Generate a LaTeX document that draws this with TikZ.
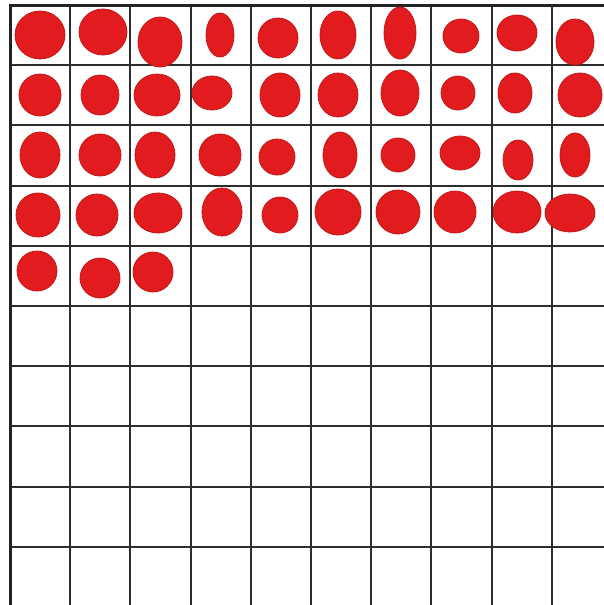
\documentclass[tikz,border=0pt]{standalone}
\usepackage{tikz}
\definecolor{dotred}{RGB}{226,28,30}
\definecolor{gridgray}{RGB}{45,45,45}
\tikzset{
gridline/.style={draw=gridgray,line width=2pt},
gridedge/.style={draw=gridgray!80!black,line width=3pt},
dotblob/.style={fill=dotred,draw=dotred!85!black,line width=0.8pt}
}
\begin{document}
\begin{tikzpicture}[x=1pt,y=-1pt]
\useasboundingbox (0,0) rectangle (604,605);
\fill[white] (0,0) rectangle (604,605);
% grid
\foreach \i in {1,...,9} {
  \draw[gridline] (10+60.2*\i,5) -- (10+60.2*\i,605);
  \draw[gridline] (10,5+60.2*\i) -- (604,5+60.2*\i);
}
\draw[gridedge] (604,5) -- (10,5) -- (10,605);
% dots
\foreach \cx/\cy/\rx/\ry in {
  40/35/25/24, 103/32/24/23, 160/42/22/25, 220/35/14/22, 278/38/20/20,
  338/35/18/24, 400/33/16/26, 461/36/18/17, 517/33/20/18, 575/42/19/23,
  40/95/21/21, 100/95/19/20, 157/95/23/21, 212/93/20/17, 280/95/20/22,
  338/95/20/22, 400/93/19/23, 458/93/17/17, 515/93/17/20, 580/95/22/22,
  40/155/20/23, 100/155/21/21, 155/155/20/23, 220/155/21/21, 277/157/18/18,
  340/155/17/23, 398/155/17/17, 460/153/20/17, 518/160/15/20, 575/155/15/22,
  38/215/22/22, 97/215/21/21, 158/213/24/20, 222/212/20/24, 280/215/18/18,
  338/212/23/23, 398/212/22/22, 455/212/21/21, 517/212/24/21, 570/213/25/19,
  37/271/20/20, 100/278/20/20, 153/272/20/20}
  \draw[dotblob] (\cx,\cy) ellipse [x radius=\rx, y radius=\ry];
\end{tikzpicture}
\end{document}
